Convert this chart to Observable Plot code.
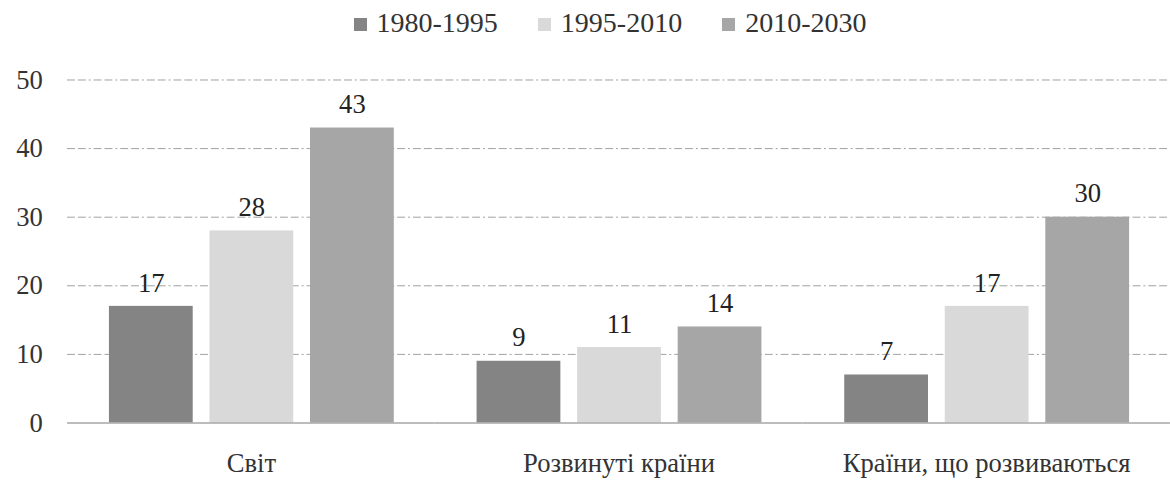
<!DOCTYPE html>
<html>
<head>
<meta charset="utf-8">
<script src="https://cdn.jsdelivr.net/npm/d3@7"></script>
<script src="https://cdn.jsdelivr.net/npm/@observablehq/plot@0.6"></script>
<style>
  body { margin: 0; }
  .lg { font-family: 'Liberation Serif'; font-size: 28px; color: #333; }
</style>
</head>
<body style="font-family:'Liberation Serif'">
<div id="legend" class="lg" style="font-family:'Liberation Serif';height:45px;width:1170px;display:flex;justify-content:center;align-items:center;gap:40px;padding-left:50px;box-sizing:border-box"></div>
<div id="chart" style="width:1170px;height:440px;overflow:hidden;font-family:'Liberation Serif'"></div>
<script>
const groups = ["Світ", "Розвинуті країни", "Країни, що розвиваються"];
const periods = ["1980-1995", "1995-2010", "2010-2030"];
const values1980 = [17, 9, 7];
const values1995 = [28, 11, 17];
const values2010 = [43, 14, 30];
const yTicks = [0, 10, 20, 30, 40, 50];
const colors = ["#848484", "#d9d9d9", "#a6a6a6"];

const series = [values1980, values1995, values2010];
const data = groups.flatMap((g, i) => periods.map((p, j) => ({group: g, period: p, value: series[j][i]})));

const legend = document.getElementById("legend");
periods.forEach((p, j) => {
  const item = document.createElement("div");
  item.style.fontFamily = "'Liberation Serif'";
  item.innerHTML = `<span style="display:inline-block;width:13px;height:13px;margin-right:10px;position:relative;top:-1px;background:${colors[j]}"></span>${p}`;
  legend.appendChild(item);
});

const chart = Plot.plot({
  width: 1187,
  height: 440,
  marginLeft: 67.5,
  marginRight: 0,
  marginTop: 35,
  marginBottom: 57,
  style: {fontFamily: "Liberation Serif", fontSize: "27px", color: "#333", background: "white"},
  fx: {domain: groups, padding: 0, label: null, axis: "bottom", tickSize: 0, tickPadding: 31},
  x: {domain: periods, paddingInner: 0.17, paddingOuter: 0.4, axis: null},
  y: {domain: [0, 50], ticks: yTicks, label: null, tickSize: 0, tickPadding: 25},
  color: {domain: periods, range: colors},
  marks: [
    Plot.ruleY(yTicks.filter(d => d > 0), {stroke: "#a0a0a0", strokeWidth: 1, strokeDasharray: "8,3,8,3,2,3"}),
    Plot.barY(data, {fx: "group", x: "period", y: "value", fill: "period"}),
    Plot.ruleY([0], {stroke: "#a6a6a6", strokeWidth: 1.5}),
    Plot.text(data, {fx: "group", x: "period", y: "value", text: d => String(d.value), lineAnchor: "bottom", dy: -15, fill: "#222", fontSize: 27})
  ]
});
chart.setAttribute("font-family", "Liberation Serif");
document.getElementById("chart").appendChild(chart);
</script>
</body>
</html>
